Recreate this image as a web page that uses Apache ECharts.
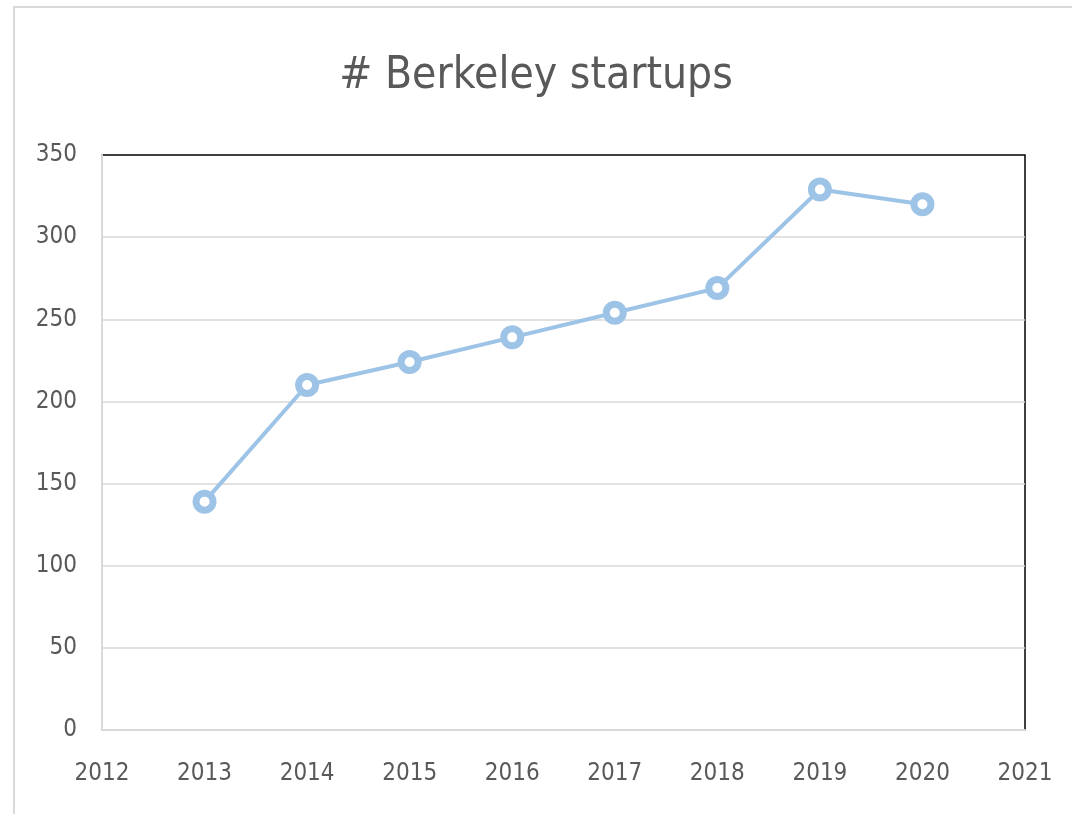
<!DOCTYPE html>
<html>
<head>
<meta charset="utf-8">
<script src="https://cdn.jsdelivr.net/npm/echarts@6/dist/echarts.min.js"></script>
<style>
  html, body { margin: 0; padding: 0; background: #fff; }
  #chart { width: 1072px; height: 814px; }
</style>
</head>
<body>
<div id="chart"></div>
<script>
// data
var years = [2013, 2014, 2015, 2016, 2017, 2018, 2019, 2020]
var startups = [139, 210, 224, 239, 254, 269, 329, 320]

var font = '"Liberation Sans Narrow", "DejaVu Sans Condensed", "Open Sans", sans-serif'
var textColor = '#595959'

var myChart = echarts.init(document.getElementById('chart'))

myChart.setOption({
  animation: false,
  title: {
    text: '# Berkeley startups',
    left: 'center',
    top: 50,
    textStyle: {
      fontFamily: font,
      fontSize: 44,
      fontWeight: 'normal',
      color: textColor
    }
  },
  // light frame round the chart
  graphic: [{
    type: 'polyline',
    shape: { points: [[14, 814], [14, 7], [1072, 7]] },
    style: { stroke: '#d9d9d9', lineWidth: 2, fill: null }
  }],
  grid: {
    left: 102,
    right: 47,
    top: 155,
    bottom: 84,
    show: true,
    borderColor: '#000',
    borderWidth: 1.5,
    z: 0
  },
  xAxis: {
    type: 'value',
    min: 2012,
    max: 2021,
    interval: 1,
    z: 2,
    axisLine: { show: true, lineStyle: { color: '#d9d9d9', width: 2 } },
    axisTick: { show: false },
    splitLine: { show: false },
    axisLabel: {
      margin: 32,
      fontFamily: font,
      fontSize: 24,
      color: textColor,
      showMinLabel: true,
      showMaxLabel: true,
      formatter: function (v) { return String(v) }
    }
  },
  yAxis: {
    type: 'value',
    min: 0,
    max: 350,
    interval: 50,
    z: 2,
    axisLine: { show: true, lineStyle: { color: '#d9d9d9', width: 2 } },
    axisTick: { show: false },
    splitLine: { show: true, showMaxLine: false, lineStyle: { color: '#d9d9d9', width: 1.5 } },
    axisLabel: {
      margin: 25,
      fontFamily: font,
      fontSize: 24,
      color: textColor
    }
  },
  series: [{
    name: '# Berkeley startups',
    type: 'line',
    data: years.map(function (y, i) { return [y, startups[i]] }),
    symbol: 'circle',
    symbolSize: 17,
    lineStyle: { color: '#9dc3e6', width: 4 },
    itemStyle: { color: '#fff', borderColor: '#9dc3e6', borderWidth: 7 },
    z: 3
  }]
})
</script>
</body>
</html>
